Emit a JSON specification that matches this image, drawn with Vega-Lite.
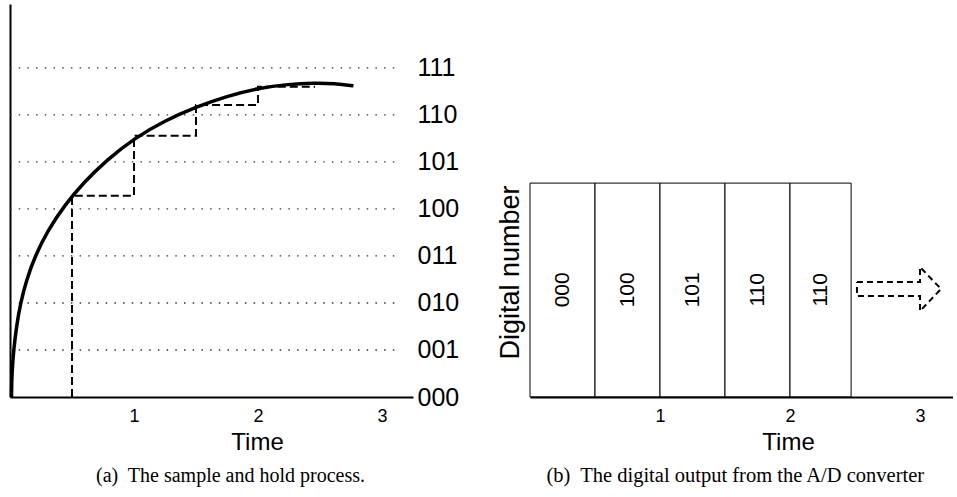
{
  "$schema": "https://vega.github.io/schema/vega-lite/v6.json",
  "padding": {"left": 4, "top": 4, "right": 0, "bottom": 0},
  "bounds": "flush",
  "spacing": 117,
  "config": {
    "view": {"stroke": null},
    "font": "Liberation Sans",
    "axis": {"labelFont": "Liberation Sans", "titleFont": "Liberation Sans", "labelColor": "black", "titleColor": "black", "titleFontWeight": "normal", "grid": false, "ticks": false, "domainColor": "black"}
  },
  "datasets": {
    "levels": [{"level": 1}, {"level": 2}, {"level": 3}, {"level": 4}, {"level": 5}, {"level": 6}, {"level": 7}],
    "curve": [
      {"t": 0.012, "v": 0}, {"t": 0.014, "v": 0.35}, {"t": 0.02, "v": 0.67}, {"t": 0.03, "v": 1.0},
      {"t": 0.052, "v": 1.5}, {"t": 0.085, "v": 2.0}, {"t": 0.134, "v": 2.5}, {"t": 0.203, "v": 3.0},
      {"t": 0.3, "v": 3.52}, {"t": 0.44, "v": 4.08}, {"t": 0.6, "v": 4.58}, {"t": 0.78, "v": 5.04},
      {"t": 1.0, "v": 5.5}, {"t": 1.25, "v": 5.88}, {"t": 1.5, "v": 6.17}, {"t": 1.75, "v": 6.4},
      {"t": 2.0, "v": 6.57}, {"t": 2.25, "v": 6.655}, {"t": 2.45, "v": 6.68}, {"t": 2.62, "v": 6.67},
      {"t": 2.77, "v": 6.62}
    ],
    "hold": [
      {"i": 0, "t": 0.5, "v": 0}, {"i": 1, "t": 0.5, "v": 4.28}, {"i": 2, "t": 1.0, "v": 4.28},
      {"i": 3, "t": 1.0, "v": 5.56}, {"i": 4, "t": 1.5, "v": 5.56}, {"i": 5, "t": 1.5, "v": 6.21},
      {"i": 6, "t": 2.0, "v": 6.21}, {"i": 7, "t": 2.0, "v": 6.6}, {"i": 8, "t": 2.46, "v": 6.6}
    ],
    "boxes": [
      {"start": 0, "end": 0.5, "code": "000"},
      {"start": 0.5, "end": 1.0, "code": "100"},
      {"start": 1.0, "end": 1.5, "code": "101"},
      {"start": 1.5, "end": 2.0, "code": "110"},
      {"start": 2.0, "end": 2.47, "code": "110"}
    ],
    "arrow": [
      {"i": 0, "t": 2.515, "v": 2.447}, {"i": 1, "t": 3.0, "v": 2.447}, {"i": 2, "t": 3.0, "v": 2.766},
      {"i": 3, "t": 3.162, "v": 2.298}, {"i": 4, "t": 3.0, "v": 1.83}, {"i": 5, "t": 3.0, "v": 2.149},
      {"i": 6, "t": 2.515, "v": 2.149}, {"i": 7, "t": 2.515, "v": 2.447}
    ]
  },
  "hconcat": [
    {
      "width": 403,
      "height": 393,
      "title": {"text": "(a)\u00a0 The sample and hold process.", "orient": "bottom", "font": "Liberation Serif", "fontSize": 20, "fontWeight": "normal", "color": "black", "offset": 12, "dx": 19},
      "layer": [
        {
          "data": {"name": "levels"},
          "mark": {"type": "rule", "strokeDash": [1.5, 7.2], "color": "#333", "strokeWidth": 1.3},
          "encoding": {
            "x": {"datum": 0, "type": "quantitative", "scale": {"domain": [0, 3.25], "nice": false, "zero": false}},
            "x2": {"datum": 3.15},
            "y": {"field": "level", "type": "quantitative", "scale": {"domain": [0, 8.36], "nice": false},
              "axis": {"orient": "left", "labels": false, "ticks": false, "domain": true, "domainWidth": 2, "title": null, "grid": false}}
          }
        },
        {
          "data": {"name": "hold"},
          "mark": {"type": "line", "strokeDash": [8, 4], "strokeWidth": 2, "color": "black"},
          "encoding": {
            "x": {"field": "t", "type": "quantitative", "scale": {"domain": [0, 3.25], "nice": false, "zero": false}},
            "y": {"field": "v", "type": "quantitative", "scale": {"domain": [0, 8.36], "nice": false}, "axis": null},
            "order": {"field": "i"}
          }
        },
        {
          "data": {"name": "curve"},
          "mark": {"type": "line", "interpolate": "basis", "strokeWidth": 3.5, "color": "black"},
          "encoding": {
            "x": {"field": "t", "type": "quantitative", "scale": {"domain": [0, 3.25], "nice": false, "zero": false},
              "axis": {"title": "Time", "values": [1, 2, 3], "format": "d", "labelFontSize": 18, "labelPadding": 10, "titleFontSize": 24, "titlePadding": 5, "titleX": 247, "domainWidth": 2, "ticks": false, "grid": false, "labelFlush": false, "zindex": 1}},
            "y": {"field": "v", "type": "quantitative", "scale": {"domain": [0, 8.36], "nice": false},
              "axis": {"orient": "right", "values": [0, 1, 2, 3, 4, 5, 6, 7], "labelExpr": "['000','001','010','011','100','101','110','111'][datum.value]", "domain": false, "ticks": false, "labelFontSize": 25, "labelPadding": 4, "title": null, "labelBaseline": "middle", "labelFlush": false, "labelOverlap": false, "grid": false}}
          }
        }
      ],
      "resolve": {"axis": {"y": "independent"}}
    },
    {
      "width": 422.5,
      "height": 393,
      "title": {"text": "(b)\u00a0 The digital output from the A/D converter", "orient": "bottom", "font": "Liberation Serif", "fontSize": 20.5, "fontWeight": "normal", "color": "black", "offset": 12, "dx": -6},
      "encoding": {
        "x": {"field": "t", "type": "quantitative", "scale": {"domain": [0, 3.25], "nice": false, "zero": false},
          "axis": {"title": "Time", "values": [1, 2, 3], "format": "d", "labelFontSize": 18, "labelPadding": 10, "titleFontSize": 24, "titlePadding": 5, "titleX": 258, "domainWidth": 2, "ticks": false, "grid": false, "labelFlush": false, "zindex": 1}}
      },
      "layer": [
        {
          "data": {"values": [{}]},
          "mark": {"type": "rule", "strokeWidth": 2, "color": "black"},
          "encoding": {
            "x": {"datum": 0, "type": "quantitative"},
            "y": {"datum": 0, "type": "quantitative", "scale": {"domain": [0, 8.36], "nice": false},
              "axis": {"title": "Digital number", "orient": "left", "domain": false, "labels": false, "ticks": false, "grid": false, "titleFontSize": 27, "titleX": -12, "titleY": 268, "titleBaseline": "alphabetic", "titleAngle": 270}},
            "y2": {"datum": 6.34}
          }
        },
        {
          "data": {"name": "boxes"},
          "mark": {"type": "rect", "fill": "white", "stroke": "black", "strokeWidth": 1},
          "encoding": {
            "x": {"field": "start", "type": "quantitative"},
            "x2": {"field": "end"},
            "y": {"datum": 0, "type": "quantitative"},
            "y2": {"datum": 4.55}
          }
        },
        {
          "data": {"name": "boxes"},
          "transform": [{"calculate": "(datum.start + datum.end) / 2", "as": "mid"}],
          "mark": {"type": "text", "angle": 270, "fontSize": 21, "font": "Liberation Sans", "color": "black"},
          "encoding": {
            "x": {"field": "mid", "type": "quantitative"},
            "y": {"datum": 2.28, "type": "quantitative"},
            "text": {"field": "code"}
          }
        },
        {
          "data": {"name": "arrow"},
          "mark": {"type": "line", "strokeDash": [6, 4], "strokeWidth": 2, "color": "black"},
          "encoding": {
            "y": {"field": "v", "type": "quantitative"},
            "order": {"field": "i"}
          }
        }
      ]
    }
  ]
}
